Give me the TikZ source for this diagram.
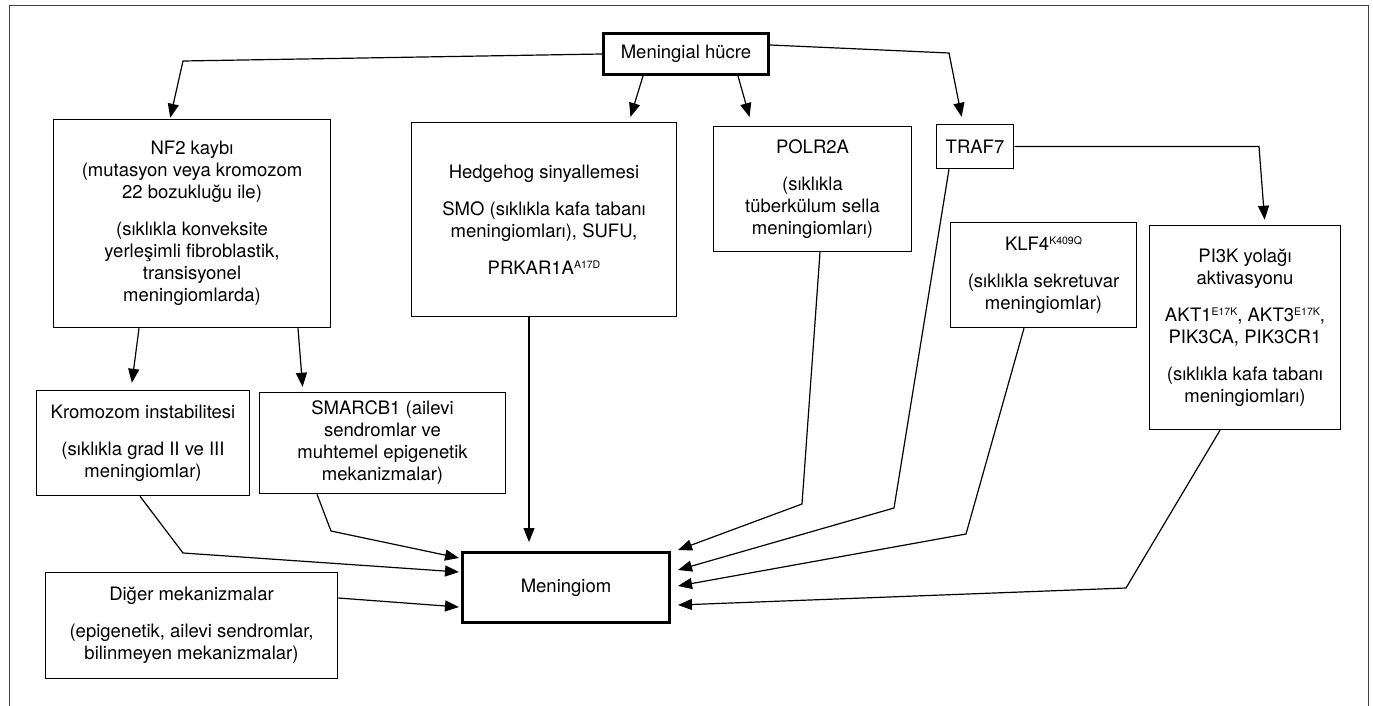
\documentclass[tikz,border=0pt]{standalone}
\usepackage{fontspec}
\setmainfont{TeX Gyre Heros}
\usetikzlibrary{arrows.meta}

% küçük üst simge (mutasyon adları)
\newcommand{\ust}[1]{\raisebox{0.6ex}{\fontsize{10.5}{10.5}\selectfont #1}}

\begin{document}
\begin{tikzpicture}[x=1pt,y=-1pt,
    every node/.style={font=\fontsize{18.5}{22}\selectfont, align=center, inner sep=0pt},
    kutu/.style={draw, line width=1.5pt},
    kalinkutu/.style={draw, line width=3pt},
    ok/.style={-{Triangle[length=14pt,width=11pt]}, line width=1.2pt}]

    % parámetros
    \def\ara{15pt}   % paragraflar arası boşluk
    \def\W{1373}     % genişlik (px)
    \def\H{706}      % yükseklik (px)

    \useasboundingbox (0,0) rectangle (\W,\H);

    % --- çerçeve ---
    \draw[line width=1pt, black!75] (9,\H) -- (9,6) -- (1368,6) -- (1368,\H);

    % --- üst kutu ---
    \node[kalinkutu, minimum width=165pt, minimum height=41pt] (hucre) at (686,54) {Meningial hücre};

    % --- ikinci sıra ---
    \node[kutu, minimum width=277pt, minimum height=208pt] (nf2) at (192,223.5)
        {NF2 kaybı\\ (mutasyon veya kromozom\\ 22 bozukluğu ile)\\[\ara]
         (sıklıkla konveksite\\ yerleşimli fibroblastik,\\ transisyonel\\ meningiomlarda)};

    \node[kutu, minimum width=265pt, minimum height=194pt] (hedgehog) at (544,219.5)
        {Hedgehog sinyallemesi\\[\ara] SMO (sıklıkla kafa tabanı\\ meningiomları), SUFU,\\[\ara]
         PRKAR1A\ust{A17D}};

    \node[kutu, minimum width=198pt, minimum height=125pt] (polr) at (812.5,189)
        {POLR2A\\[\ara] (sıklıkla\\ tüberkülum sella\\ meningiomları)};

    \node[kutu, minimum width=77pt, minimum height=44pt] (traf) at (975,146.5) {TRAF7};

    \node[kutu, minimum width=186pt, minimum height=105pt] (klf) at (1043.5,275)
        {KLF4\ust{K409Q}\\[\ara] (sıklıkla sekretuvar\\ meningiomlar)};

    \node[kutu, minimum width=191pt, minimum height=204pt] (pik) at (1245,327.5)
        {PI3K yolağı\\ aktivasyonu\\[\ara] AKT1\ust{E17K}, AKT3\ust{E17K},\\ PIK3CA, PIK3CR1\\[\ara]
         (sıklıkla kafa tabanı\\ meningiomları)};

    % --- üçüncü sıra ---
    \node[kutu, minimum width=213pt, minimum height=105pt] (krom) at (143,443)
        {Kromozom instabilitesi\\[\ara] (sıklıkla grad II ve III\\ meningiomlar)};

    \node[kutu, minimum width=246pt, minimum height=101pt] (smarcb) at (382.5,443)
        {SMARCB1 (ailevi\\ sendromlar ve\\ muhtemel epigenetik\\ mekanizmalar)};

    \node[kutu, minimum width=292pt, minimum height=106pt] (diger) at (191.5,625.5)
        {Diğer mekanizmalar\\[\ara] (epigenetik, ailevi sendromlar,\\ bilinmeyen mekanizmalar)};

    % --- sonuç ---
    \node[kalinkutu, minimum width=207pt, minimum height=70pt] (meningiom) at (566,587.5) {Meningiom};

    % --- oklar: Meningial hücre ---
    \draw[ok, shorten >=1pt] (hucre.west) -- (183,61) -- ([xshift=-22pt]nf2.north);
    \draw[ok, shorten >=5pt] ([xshift=-43pt]hucre.south) -- ([xshift=85pt]hedgehog.north);
    \draw[ok, shorten >=9pt] ([xshift=52pt]hucre.south) -- ([xshift=-60.5pt]polr.north);
    \draw[ok, shorten >=7pt] ([yshift=9pt]hucre.east) -- (949,53) -- ([xshift=-12pt]traf.north);
    \draw[ok, shorten >=5pt] (traf.east) -- (1259,146.5) -- ([xshift=20pt]pik.north);

    % --- oklar: NF2 ---
    \draw[ok, shorten >=7pt] ([xshift=-53pt]nf2.south) -- ([xshift=-12pt]krom.north);
    \draw[ok, shorten >=5pt] ([xshift=106pt]nf2.south) -- ([xshift=-79.5pt]smarcb.north);

    % --- oklar: Meningiom (sol ve üst) ---
    \draw[ok, shorten >=9pt] ([xshift=-15pt]hedgehog.south) -- ([xshift=-37pt]meningiom.north);
    \draw[ok] ([xshift=-3pt]krom.south) -- (183,553) -- ([xshift=-2pt,yshift=15.5pt]meningiom.west);
    \draw[ok] ([xshift=-65.5pt]smarcb.south) -- (331,531) -- ([xshift=-2pt,yshift=29.5pt]meningiom.west);
    \draw[ok] ([yshift=27.5pt]diger.east) -- ([xshift=-2pt,yshift=-19.5pt]meningiom.west);

    % --- oklar: Meningiom (sağ) ---
    \draw[ok] ([xshift=7.5pt]polr.south) -- (802,504) -- ([xshift=7pt,yshift=37.5pt]meningiom.east);
    \draw[ok] ([xshift=-26pt]traf.south) -- (894,508) -- ([xshift=7pt,yshift=17.5pt]meningiom.east);
    \draw[ok] ([xshift=-19.5pt]klf.south) -- (966,534) -- ([xshift=7pt,yshift=1.5pt]meningiom.east);
    \draw[ok] ([xshift=-25pt]pik.south) -- (1126,588) -- ([xshift=7pt,yshift=-17.5pt]meningiom.east);

\end{tikzpicture}
\end{document}
